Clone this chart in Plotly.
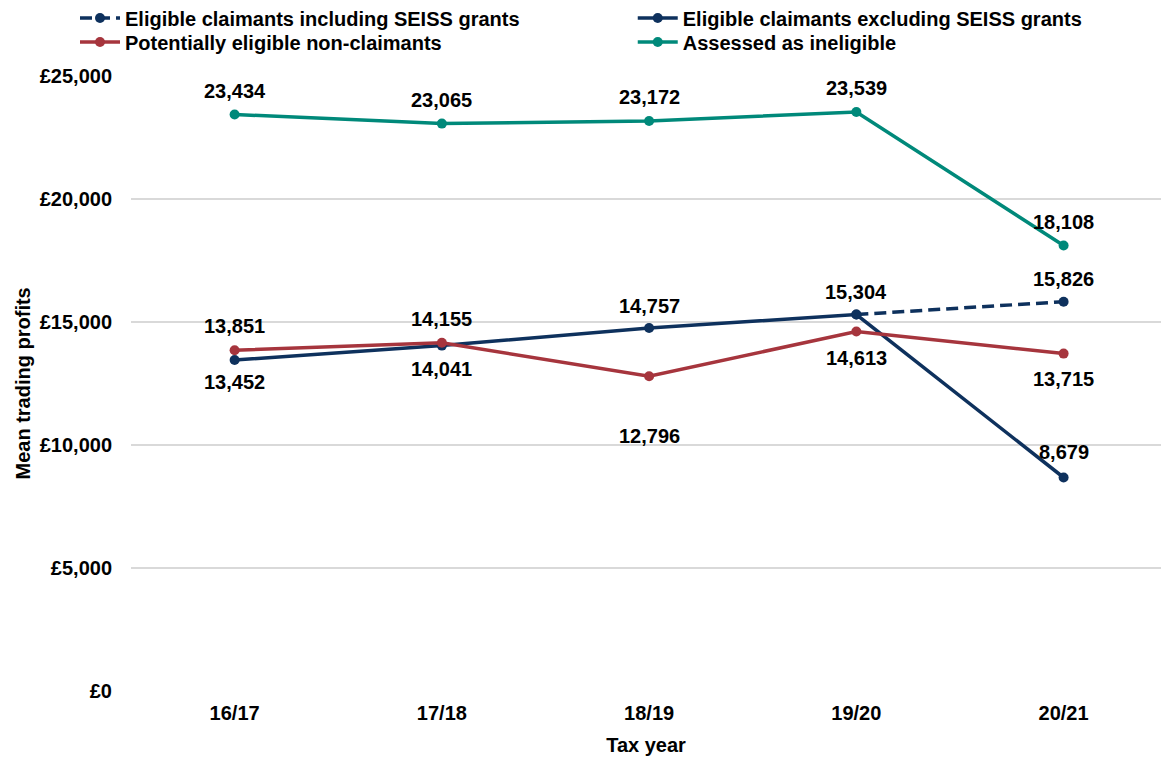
import plotly.graph_objects as go

tax_years = ["16/17", "17/18", "18/19", "19/20", "20/21"]

incl_seiss = [None, None, None, 15304, 15826]
excl_seiss = [13452, 14041, 14757, 15304, 8679]
non_claimants = [13851, 14155, 12796, 14613, 13715]
ineligible = [23434, 23065, 23172, 23539, 18108]

y_ticks = [0, 5000, 10000, 15000, 20000, 25000]
y_tick_labels = ["£0", "£5,000", "£10,000", "£15,000", "£20,000", "£25,000"]

NAVY = "#0e315d"
RED = "#a6353d"
TEAL = "#00897a"
FONT = "Liberation Sans, Arial, sans-serif"
FS = 20

fig = go.Figure()
annotations = []


def add_series(name, values, color, shifts, legend, dash="solid", labelled=None):
    fig.add_trace(go.Scatter(
        x=tax_years, y=values, name=f"<b>{name}</b>",
        mode="lines+markers",
        line=dict(color=color, width=3.5, dash=dash),
        marker=dict(color=color, size=10),
        connectgaps=False, legend=legend,
    ))
    # value labels, pushed above (+) or below (-) each point
    for i, (cat, v) in enumerate(zip(tax_years, values)):
        if v is None or (labelled is not None and i not in labelled):
            continue
        annotations.append(dict(
            x=cat, y=v, xref="x", yref="y", text=f"<b>{v:,}</b>",
            showarrow=False, yshift=shifts[i],
            font=dict(family=FONT, size=FS, color="#000000"),
        ))


# Including SEISS grants only departs from the excluding series in 20/21
add_series("Eligible claimants including SEISS grants", incl_seiss, NAVY,
           [0, 0, 0, 0, 23], "legend", dash="12px,6px", labelled=[4])
add_series("Eligible claimants excluding SEISS grants", excl_seiss, NAVY,
           [-22, -23, 22, 23, 26], "legend2")
add_series("Potentially eligible non-claimants", non_claimants, RED,
           [24, 24, -60, -26, -25], "legend3")
add_series("Assessed as ineligible", ineligible, TEAL,
           [24, 24, 24, 24, 24], "legend4")

# one single-entry legend per slot, laid out as a 2x2 grid above the plot
legend_common = dict(
    orientation="v", yanchor="middle", xanchor="left",
    xref="container", yref="container",
    font=dict(family=FONT, size=FS, color="#000000"),
    bgcolor="rgba(0,0,0,0)", itemwidth=40,
)
row1, row2 = 1 - 18 / 760, 1 - 42 / 760
col1, col2 = 0.0646, 0.545

# Y-axis title placed as rotated text centred on the plot height
annotations.append(dict(
    text="<b>Mean trading profits</b>", textangle=-90, showarrow=False,
    xref="paper", yref="paper", x=(22 - 131) / 1030, y=0.5,
    xanchor="center", yanchor="middle",
    font=dict(family=FONT, size=FS, color="#000000"),
))

fig.update_layout(
    width=1161, height=760,
    paper_bgcolor="white", plot_bgcolor="white",
    margin=dict(l=131, r=0, t=76, b=69, autoexpand=False),
    font=dict(family=FONT, size=FS, color="#000000"),
    showlegend=True,
    legend=dict(x=col1, y=row1, **legend_common),
    legend2=dict(x=col2, y=row1, **legend_common),
    legend3=dict(x=col1, y=row2, **legend_common),
    legend4=dict(x=col2, y=row2, **legend_common),
    annotations=annotations,
    xaxis=dict(
        type="category", range=[-0.5, 4.47], showgrid=False, showline=False,
        ticks="", ticklabelstandoff=8,
        tickvals=tax_years, ticktext=[f"<b>{t}</b>" for t in tax_years],
        title=dict(text="<b>Tax year</b>", font=dict(size=FS), standoff=14),
    ),
    yaxis=dict(
        range=[0, 25000], tickvals=y_ticks,
        ticktext=[f"<b>{t}</b>" for t in y_tick_labels],
        showgrid=True, gridcolor="#d9d9d9", gridwidth=1.5, zeroline=False,
        showline=False, ticks="", ticklabelstandoff=18,
    ),
)

fig.write_html("out.html")
